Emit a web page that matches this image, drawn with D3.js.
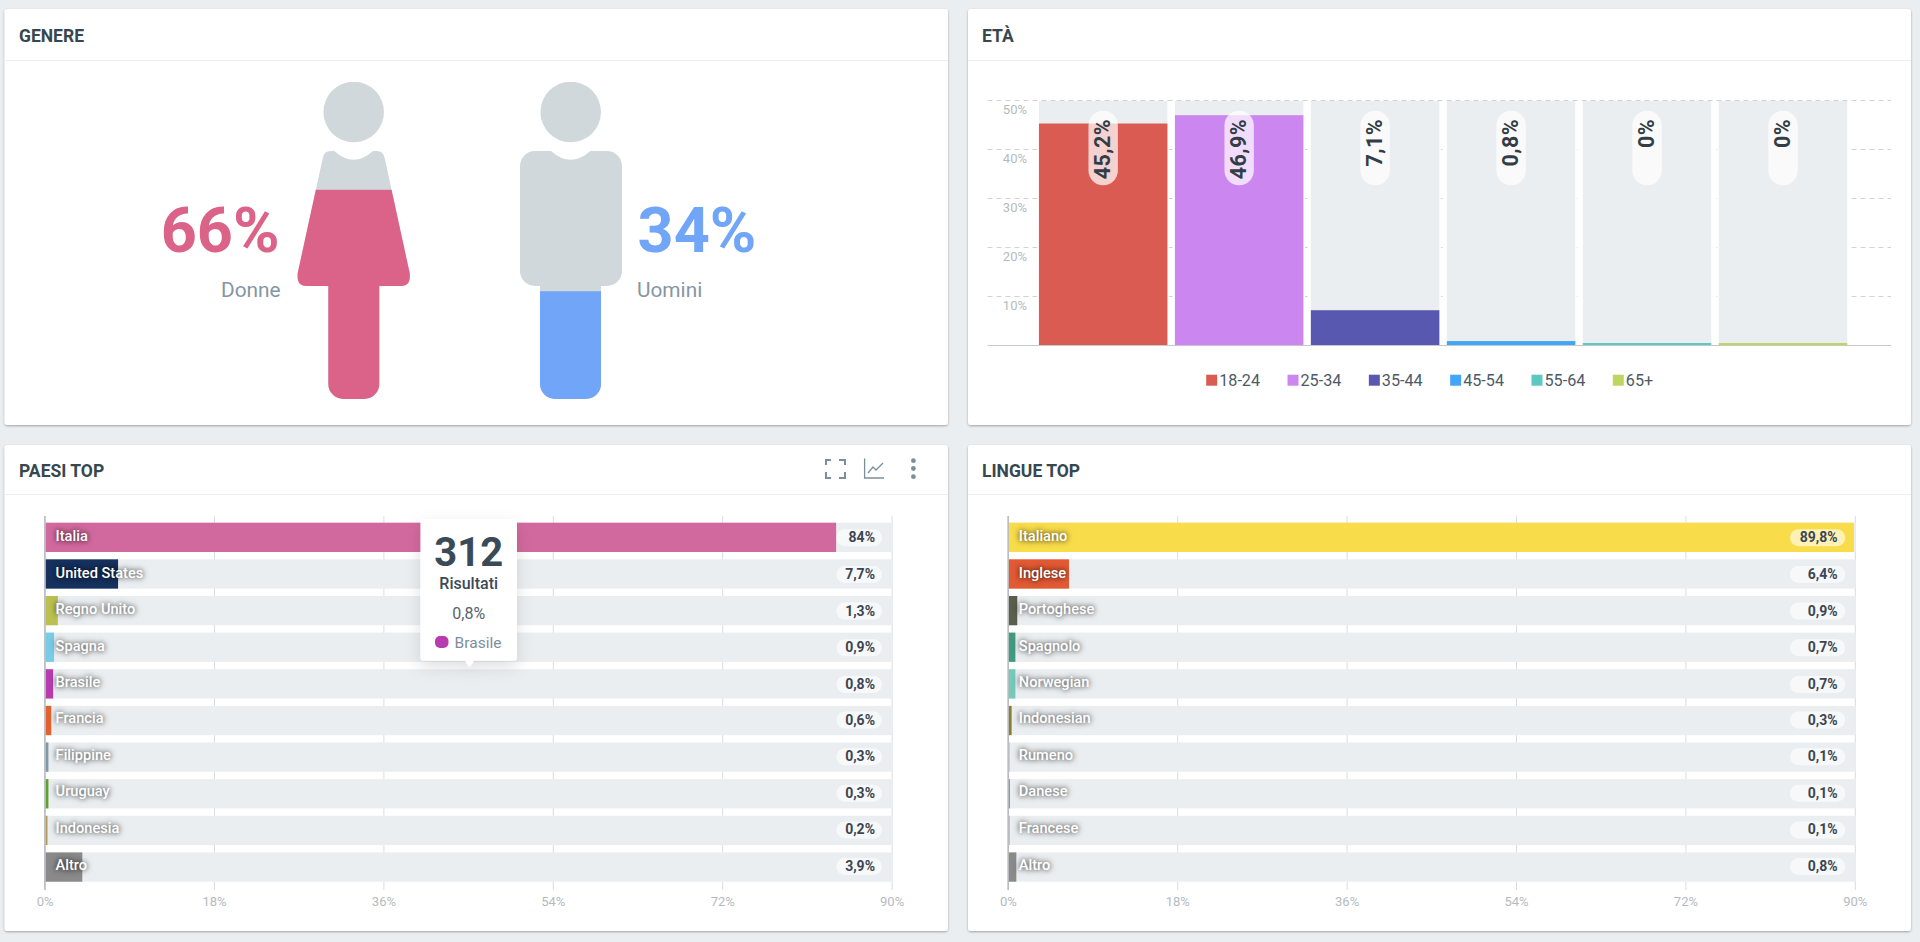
<!DOCTYPE html>
<html lang="it">
<head>
<meta charset="utf-8">
<title>Dashboard</title>
<script src="https://cdn.jsdelivr.net/npm/d3@7/dist/d3.min.js"></script>
<style>
html,body{margin:0;padding:0;background:#eaeef1;overflow:hidden;}
svg{display:block;font-family:Roboto,"Noto Sans",sans-serif;}
.ax text{font-family:Roboto,sans-serif;}
</style>
</head>
<body>
<div id="chart"></div>
<script>
// ---------- data ----------
const genderLabels = ["Donne", "Uomini"];
const genderValues = [66, 34];
const genderColors = ["#db6389", "#70a5f8"];

const ageLabels = ["18-24", "25-34", "35-44", "45-54", "55-64", "65+"];
const ageValues = [45.2, 46.9, 7.1, 0.8, 0, 0];
const ageColors = ["#d95b52", "#cb87ef", "#5858b1", "#42a5f5", "#5cc8c0", "#bcd660"];
const ageTicks = [10, 20, 30, 40, 50];

const countryNames = ["Italia", "United States", "Regno Unito", "Spagna", "Brasile", "Francia", "Filippine", "Uruguay", "Indonesia", "Altro"];
const countryValues = [84, 7.7, 1.3, 0.9, 0.8, 0.6, 0.3, 0.3, 0.2, 3.9];
const countryColors = ["#d2699e", "#16315d", "#bcc04f", "#78cce6", "#b83bb0", "#e5602f", "#7f9aa5", "#5fa02f", "#b29b5a", "#8a8a8a"];

const languageNames = ["Italiano", "Inglese", "Portoghese", "Spagnolo", "Norwegian", "Indonesian", "Rumeno", "Danese", "Francese", "Altro"];
const languageValues = [89.8, 6.4, 0.9, 0.7, 0.7, 0.3, 0.1, 0.1, 0.1, 0.8];
const languageColors = ["#f9dc4a", "#e25a34", "#5b5e4d", "#3f9a7e", "#74c9b8", "#8a7f2e", "#eab4d0", "#5f88b8", "#e79cc6", "#8a8a8a"];

const barTicks = [0, 18, 36, 54, 72, 90];
const tooltip = {count: "312", unit: "Risultati", index: 4};

// ---------- helpers ----------
const W = 1920, H = 942;
const INK = "#37474f", TICK = "#b4bbc0", TRACK = "#ebeef0";
const pct = v => String(v).replace(".", ",") + "%";
const svg = d3.select("#chart").append("svg").attr("width", W).attr("height", H);
const defs = svg.append("defs");
const soft = defs.append("filter").attr("id", "soft").attr("x", "-30%").attr("y", "-30%").attr("width", "160%").attr("height", "160%");
soft.append("feDropShadow").attr("dx", 0).attr("dy", 1).attr("stdDeviation", 1.2).attr("flood-color", "#000").attr("flood-opacity", 0.32);
const tipShadow = defs.append("filter").attr("id", "tipShadow").attr("x", "-40%").attr("y", "-30%").attr("width", "180%").attr("height", "170%");
tipShadow.append("feDropShadow").attr("dx", 0).attr("dy", 6).attr("stdDeviation", 8).attr("flood-color", "#000").attr("flood-opacity", 0.13);

svg.append("rect").attr("width", W).attr("height", H).attr("fill", "#eaeef1");

function card(x0, x1, y0, y1, headLine, title, titleX) {
  svg.append("rect").attr("x", x0).attr("y", y0).attr("width", x1 - x0).attr("height", y1 - y0)
    .attr("rx", 3).attr("fill", "#fff").attr("filter", "url(#soft)");
  svg.append("line").attr("x1", x0).attr("x2", x1).attr("y1", headLine + .5).attr("y2", headLine + .5).attr("stroke", "#eceff1");
  svg.append("text").attr("x", titleX).attr("y", (y0 + headLine) / 2 + 7.5)
    .attr("font-size", 17.5).attr("font-weight", 700).attr("fill", INK).text(title);
}
card(4.5, 948, 9, 425, 60, "GENERE", 19);
card(968, 1911, 9, 425, 60, "ETÀ", 982);
card(4.5, 948, 445, 931, 494, "PAESI TOP", 19);
card(968, 1911, 445, 931, 494, "LINGUE TOP", 982);

// ---------- gender pictograms ----------
const personY = d3.scaleLinear().domain([0, 100]).range([399, 82]);
const shapes = [
  {cx: 353.7, body: "M334.3,151 Q353.7,168.4 373.1,151 H376.7 Q383.5,151 384.7,158.3 L409.7,273 Q411,286 401.4,286 H379.3 V384 A15,15 0 0 1 364.3,399 H343.3 A15,15 0 0 1 328.3,384 V286 H306 Q296.4,286 297.7,273 L322.7,158.3 Q323.9,151 330.7,151 Z"},
  {cx: 570.7, body: "M551,151 Q570.7,168.4 590.4,151 H607 A15,15 0 0 1 622,166 V271 A15,15 0 0 1 607,286 H601 V384 A15,15 0 0 1 586,399 H555 A15,15 0 0 1 540,384 V286 H535 A15,15 0 0 1 520,271 V166 A15,15 0 0 1 535,151 Z"}
];
shapes.forEach((s, i) => {
  const cp = defs.append("clipPath").attr("id", "person" + i);
  cp.append("circle").attr("cx", s.cx).attr("cy", 112).attr("r", 30.3);
  cp.append("path").attr("d", s.body);
  const g = svg.append("g").attr("clip-path", `url(#person${i})`);
  g.append("rect").attr("x", s.cx - 70).attr("width", 140).attr("y", personY(100)).attr("height", personY(0) - personY(100)).attr("fill", "#d1d8dc");
  g.append("rect").attr("x", s.cx - 70).attr("width", 140).attr("y", personY(genderValues[i])).attr("height", personY(0) - personY(genderValues[i])).attr("fill", genderColors[i]);
});
[{x: 279.5, a: "end", lx: 280.5}, {x: 637.5, a: "start", lx: 637}].forEach((p, i) => {
  svg.append("text").attr("x", p.x).attr("y", 252).attr("text-anchor", p.a)
    .attr("font-size", 63).attr("font-weight", 700).attr("fill", genderColors[i]).text(genderValues[i] + "%");
  svg.append("text").attr("x", p.lx).attr("y", 297).attr("text-anchor", p.a)
    .attr("font-size", 20.8).attr("font-weight", 400).attr("fill", "#8596a3").text(genderLabels[i]);
});

// ---------- age chart ----------
const ageX = d3.scaleBand().domain(ageLabels).range([1035.2, 1851]).paddingInner(0.055).paddingOuter(0.0275);
const ageY = d3.scaleLinear().domain([0, 50]).range([345, 100]);
const ageAxis = svg.append("g").attr("class", "ax").attr("transform", "translate(987.5,0)")
  .call(d3.axisLeft(ageY).tickValues(ageTicks).tickFormat(d => d + "%").tickSize(-903.5).tickPadding(0));
ageAxis.select(".domain").remove();
ageAxis.selectAll("line").attr("stroke", "#cfd3d6").attr("stroke-dasharray", "5 4");
ageAxis.selectAll("text").attr("x", 39.5).attr("dy", "1.05em").attr("font-size", 13).attr("fill", TICK).attr("text-anchor", "end");
ageLabels.forEach((d, i) => {
  const x = ageX(d), w = ageX.bandwidth();
  svg.append("rect").attr("x", x - 1.5).attr("width", w + 3).attr("y", ageY(50) + 1).attr("height", ageY(0) - ageY(50) - 1).attr("fill", "#fff");
  svg.append("rect").attr("x", x).attr("width", w).attr("y", ageY(50) + 1).attr("height", ageY(0) - ageY(50) - 1).attr("fill", TRACK);
  const h = Math.max(2, ageY(0) - ageY(ageValues[i]));
  svg.append("rect").attr("x", x).attr("width", w).attr("y", ageY(0) - h).attr("height", h).attr("fill", ageColors[i]);
});
svg.append("line").attr("x1", 987.5).attr("x2", 1891).attr("y1", ageY(0) + .5).attr("y2", ageY(0) + .5).attr("stroke", "#c4c9cc").attr("stroke-width", 1.2);
ageLabels.forEach((d, i) => {
  const c = ageX(d) + ageX.bandwidth() / 2;
  svg.append("rect").attr("x", c - 14.7).attr("width", 29.4).attr("y", 110.7).attr("height", 74.6).attr("rx", 14.7)
    .attr("fill", "#fff").attr("fill-opacity", 0.72);
  svg.append("text").attr("transform", `translate(${c + 7},119) rotate(-90)`).attr("text-anchor", "end")
    .attr("font-size", 21.5).attr("font-weight", 700).attr("letter-spacing", 0.4).attr("fill", "#333d45").text(pct(ageValues[i]));
});
const ageLegendX = d3.scalePoint().domain(ageLabels).range([1206.2, 1612.8]);
ageLabels.forEach((d, i) => {
  svg.append("rect").attr("x", ageLegendX(d)).attr("y", 374.7).attr("width", 11).attr("height", 11).attr("fill", ageColors[i]);
  svg.append("text").attr("x", ageLegendX(d) + 13).attr("y", 385.6).attr("font-size", 16.2).attr("fill", "#4d5a66").text(d);
});

// ---------- horizontal bars ----------
function barChart(names, values, colors, x0, pillL, pillR, textR) {
  const x = d3.scaleLinear().domain([0, 90]).range([x0, x0 + 847]);
  const y = d3.scaleBand().domain(names.map((n, i) => i)).range([522.7, 881.7]).paddingInner(0.2);
  const axis = svg.append("g").attr("class", "ax").attr("transform", "translate(0,890)")
    .call(d3.axisBottom(x).tickValues(barTicks).tickFormat(d => d + "%").tickSize(-374).tickPadding(7));
  axis.select(".domain").remove();
  axis.selectAll("line").attr("stroke", "#d9dde0");
  axis.selectAll("text").attr("font-size", 13).attr("fill", TICK);
  names.forEach((n, i) => {
    const by = y(i), bh = y.bandwidth();
    const shift = i >= 5 ? -1 : 0;
    svg.append("rect").attr("x", x0 + 1).attr("y", by).attr("width", x(90) - x0).attr("height", bh).attr("fill", TRACK);
    svg.append("rect").attr("x", x0 + 1).attr("y", by).attr("width", Math.max(1, x(values[i]) - x0)).attr("height", bh).attr("fill", colors[i]);
    svg.append("text").attr("x", x0 + 11).attr("y", by + bh / 2 + 3.6 + shift)
      .attr("font-size", 14.6).attr("font-weight", 500).attr("fill", "#fff")
      .style("text-shadow", "0 0 6px rgba(0,0,0,.7), 0 0 4px rgba(0,0,0,.3)").text(n);
    svg.append("rect").attr("x", pillL).attr("width", pillR - pillL).attr("y", by + bh / 2 - 8 + shift).attr("height", 17).attr("rx", 8.5)
      .attr("fill", "#fff").attr("fill-opacity", 0.6);
    svg.append("text").attr("x", textR).attr("y", by + bh / 2 + 5 + shift).attr("text-anchor", "end")
      .attr("font-size", 14).attr("font-weight", 700).attr("fill", "#3c4650").text(pct(values[i]));
  });
  svg.append("line").attr("x1", x0 + .3).attr("x2", x0 + .3).attr("y1", 516).attr("y2", 890).attr("stroke", "#a9aeb2").attr("stroke-width", 1.2);
  return {x, y};
}
barChart(countryNames, countryValues, countryColors, 44.6, 836.4, 882, 875);
barChart(languageNames, languageValues, languageColors, 1007.8, 1790, 1845.3, 1837.7);

// ---------- tooltip ----------
const tip = svg.append("g");
tip.append("path").attr("d", "M420.4,522 a3,3 0 0 1 3,-3 H514 a3,3 0 0 1 3,3 V657.7 a3,3 0 0 1 -3,3 H474 L469.5,667 L465,660.7 H423.4 a3,3 0 0 1 -3,-3 Z")
  .attr("fill", "#fff").attr("filter", "url(#tipShadow)");
tip.append("text").attr("x", 468.7).attr("y", 566.3).attr("text-anchor", "middle").attr("font-size", 40).attr("font-weight", 700).attr("fill", "#3a4a57").text(tooltip.count);
tip.append("text").attr("x", 468.7).attr("y", 589).attr("text-anchor", "middle").attr("font-size", 16).attr("font-weight", 500).attr("fill", "#3a4a57").text(tooltip.unit);
tip.append("text").attr("x", 468.7).attr("y", 618.5).attr("text-anchor", "middle").attr("font-size", 16).attr("fill", "#56636e").text(pct(countryValues[tooltip.index]));
tip.append("rect").attr("x", 435).attr("y", 636).attr("width", 13.5).attr("height", 12).attr("rx", 5).attr("fill", countryColors[tooltip.index]);
tip.append("text").attr("x", 454.6).attr("y", 647.5).attr("font-size", 15.5).attr("fill", "#7d8e9b").text(countryNames[tooltip.index]);

// ---------- header icons ----------
const icons = svg.append("g").attr("fill", "none").attr("stroke", "#7d8e9b");
icons.append("path").attr("stroke-width", 2).attr("d", "M826,465 V460 H831 M839,460 H845 V465 M845,472 V478 H839 M831,478 H826 V472");
icons.append("path").attr("stroke-width", 1.3).attr("d", "M864.6,458.5 V478 H884 M868,473 L873,467 L876,470 L883,463");
[460.7, 468.5, 476.7].forEach(cy => svg.append("circle").attr("cx", 913.4).attr("cy", cy).attr("r", 2.4).attr("fill", "#7d8e9b"));
</script>
</body>
</html>
